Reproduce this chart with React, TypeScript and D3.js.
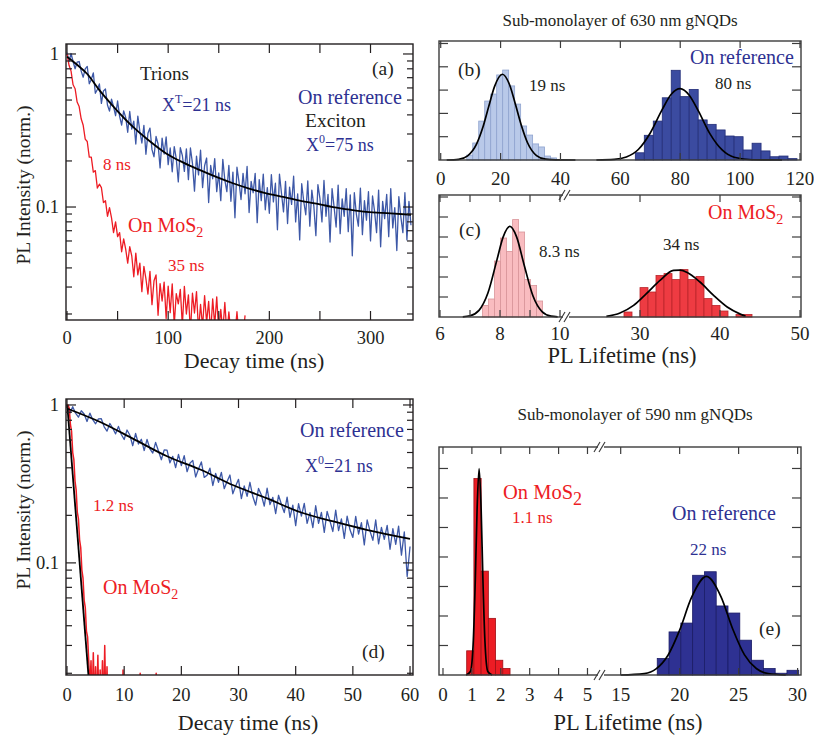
import React from 'react';
import * as d3 from 'd3';

// ---------- data ----------

// (a) 630 nm gNQDs – PL decay traces (uniform time channels)
const decayARefStep = 2; // ns
const decayARef = [
  1.02, 0.893, 1.007, 0.893, 0.801, 0.884, 0.893, 0.773, 0.705, 0.799,
  0.829, 0.639, 0.682, 0.753, 0.554, 0.586, 0.638, 0.476, 0.573, 0.59,
  0.464, 0.423, 0.507, 0.453, 0.395, 0.493, 0.391, 0.343, 0.425, 0.385,
  0.308, 0.421, 0.323, 0.364, 0.258, 0.393, 0.312, 0.262, 0.342, 0.221,
  0.303, 0.328, 0.237, 0.213, 0.289, 0.258, 0.18, 0.282, 0.222, 0.287,
  0.189, 0.243, 0.17, 0.248, 0.207, 0.146, 0.244, 0.217, 0.171, 0.24,
  0.151, 0.243, 0.193, 0.127, 0.215, 0.162, 0.235, 0.134, 0.186, 0.209,
  0.107, 0.187, 0.153, 0.207, 0.126, 0.167, 0.11, 0.205, 0.15, 0.126,
  0.187, 0.109, 0.169, 0.085, 0.182, 0.146, 0.112, 0.166, 0.122, 0.184,
  0.092, 0.147, 0.124, 0.166, 0.079, 0.151, 0.11, 0.164, 0.096, 0.134,
  0.091, 0.163, 0.108, 0.143, 0.071, 0.164, 0.123, 0.093, 0.147, 0.078,
  0.135, 0.104, 0.159, 0.08, 0.122, 0.061, 0.142, 0.109, 0.089, 0.148,
  0.075, 0.129, 0.101, 0.065, 0.14, 0.114, 0.08, 0.149, 0.087, 0.121,
  0.059, 0.132, 0.1, 0.074, 0.139, 0.067, 0.113, 0.087, 0.132, 0.069,
  0.12, 0.048, 0.124, 0.09, 0.075, 0.133, 0.066, 0.11, 0.082, 0.126,
  0.06, 0.118, 0.094, 0.068, 0.129, 0.055, 0.109, 0.084, 0.121, 0.064,
  0.132, 0.073, 0.099, 0.052, 0.117, 0.086, 0.068, 0.124, 0.061, 0.109,
  0.076,
];
const decayAMoS2Step = 2; // ns
const decayAMoS2 = [
  1.0, 0.843, 0.773, 0.629, 0.593, 0.485, 0.453, 0.377, 0.342, 0.278,
  0.268, 0.212, 0.212, 0.169, 0.173, 0.133, 0.141, 0.134, 0.107, 0.11,
  0.087, 0.099, 0.085, 0.068, 0.08, 0.064, 0.068, 0.051, 0.062, 0.053,
  0.043, 0.055, 0.048, 0.035, 0.05, 0.036, 0.043, 0.028, 0.041, 0.034,
  0.027, 0.038, 0.023, 0.033, 0.036, 0.0196, 0.0316, 0.0243, 0.0323, 0.0187,
  0.0304, 0.0204, 0.0315, 0.017, 0.0272, 0.0233, 0.029, 0.0168, 0.0303, 0.02,
  0.0267, 0.0152, 0.0274, 0.0203, 0.028, 0.0155, 0.0231, 0.0165, 0.0264, 0.0176,
  0.0242, 0.0149, 0.0251, 0.0169, 0.0259, 0.0151, 0.0214, 0.0154, 0.0238, 0.0148,
  0.0206, 0.0147, 0.0157, 0.0146, 0.0207, 0.0141, 0.0149, 0.0144, 0.0196,
];
const fitARefT = [0, 10, 20, 32, 45, 65, 80, 98, 115, 131, 150, 164, 180, 197, 215, 230, 250, 263, 280, 296, 320, 340];
const fitARefI = [0.96, 0.85, 0.74, 0.58, 0.46, 0.335, 0.275, 0.224, 0.195, 0.175, 0.155, 0.143, 0.132, 0.123, 0.116, 0.11, 0.104, 0.1, 0.096, 0.093, 0.091, 0.089];
const aXTicks = [0, 50, 100, 150, 200, 250, 300];
const aXLabels = [0, 100, 200, 300];

// (d) 590 nm gNQDs – PL decay traces
const decayDRefStep = 0.5; // ns
const decayDRef = [
  0.979, 0.888, 0.975, 0.887, 0.837, 0.919, 0.877, 0.786, 0.888, 0.807,
  0.76, 0.817, 0.819, 0.727, 0.683, 0.763, 0.712, 0.656, 0.732, 0.65,
  0.604, 0.694, 0.643, 0.552, 0.66, 0.566, 0.607, 0.515, 0.605, 0.528,
  0.496, 0.579, 0.511, 0.45, 0.519, 0.518, 0.43, 0.473, 0.401, 0.487,
  0.413, 0.478, 0.378, 0.428, 0.446, 0.35, 0.393, 0.436, 0.348, 0.359,
  0.398, 0.309, 0.369, 0.324, 0.374, 0.295, 0.328, 0.36, 0.274, 0.307,
  0.338, 0.255, 0.307, 0.264, 0.324, 0.263, 0.232, 0.296, 0.269, 0.229,
  0.297, 0.234, 0.26, 0.205, 0.268, 0.235, 0.208, 0.261, 0.194, 0.232,
  0.172, 0.237, 0.198, 0.238, 0.178, 0.208, 0.167, 0.23, 0.178, 0.209,
  0.156, 0.212, 0.184, 0.158, 0.216, 0.16, 0.19, 0.143, 0.198, 0.162,
  0.145, 0.197, 0.152, 0.18, 0.13, 0.187, 0.159, 0.139, 0.187, 0.132,
  0.168, 0.141, 0.173, 0.122, 0.165, 0.131, 0.171, 0.112, 0.157, 0.082,
  0.127,
];
const decayDMoS2Step = 0.2; // ns
const decayDMoS2 = [
  1.0, 1.0, 0.95, 0.75, 0.68, 0.5, 0.45, 0.33, 0.29, 0.21,
  0.19, 0.14, 0.125, 0.09, 0.08, 0.058, 0.052, 0.037, 0.034, 0.024,
  0.016, 0.024, 0.012, 0.027, 0.013, 0.022, 0.012, 0.026, 0.011, 0.021,
  0.012, 0.024, 0.011, 0.03, 0.012, 0.022, 0.01, 0.01, 0.01, 0.01,
  0.01, 0.01, 0.01, 0.01, 0.01, 0.01, 0.01, 0.01, 0.01, 0.021,
  0.01, 0.01, 0.01, 0.01, 0.01, 0.01, 0.01, 0.01, 0.01, 0.01,
  0.01, 0.01, 0.01, 0.01, 0.02, 0.01, 0.01, 0.01, 0.01, 0.01,
  0.01, 0.01, 0.01, 0.01, 0.01, 0.01, 0.01, 0.01, 0.02, 0.01,
  0.01,
];
const fitDRefT = [0, 5.8, 11.6, 17.4, 23.3, 29.1, 34.9, 40.7, 46.6, 52.4, 60];
const fitDRefI = [0.95, 0.78, 0.61, 0.475, 0.39, 0.31, 0.257, 0.21, 0.183, 0.162, 0.142];
const fitDMoS2T = [0.05, 4.2];
const fitDMoS2I = [1.0, 0.012];
const dXTicks = [0, 10, 20, 30, 40, 50, 60];

// (b) 630 nm, on reference – lifetime histograms
const bTrionStart = 8.7;
const bTrionWidth = 2;
const bTrionCounts = [2.1, 7.3, 16.7, 25.3, 28.3, 36.5, 38.6, 31.8, 24, 14.6, 10.7, 6.9, 5.6, 1.7, 0.9];
const bExcStart = 65;
const bExcWidth = 3;
const bExcCounts = [3.1, 10.6, 16.7, 26.7, 38.5, 27.2, 30.3, 17.2, 15.3, 12.9, 10.3, 10, 4.3, 7.2, 3.9, 1.4, 1.7, 0.6];
const bTrionFitX = [2, 6, 9, 12, 14, 16, 18, 20.6, 23, 25, 27, 29, 32, 35, 38.5, 45];
const bTrionFitY = [0, 0.3, 1.8, 6.9, 13.7, 22.8, 31.6, 36.8, 32.3, 23.7, 14.6, 7.4, 1.9, 0.34, 0.02, 0];
const bExcFitX = [52, 58, 62, 66, 70, 74, 77, 80, 83, 86, 90, 94, 98, 104, 114];
const bExcFitY = [0, 0.26, 1.3, 4.5, 11.6, 21.7, 28.2, 30.6, 27.8, 21.2, 11.1, 4.3, 1.2, 0.1, 0];
const bXTicks = [0, 20, 40, 60, 80, 100, 120];

// (c) 630 nm, on MoS2
const cTrionStart = 7.42;
const cTrionWidth = 0.2;
const cTrionCounts = [5.8, 9, 28, 39.5, 32.8, 48.7, 42.5, 18.7, 15.8, 8];
const cExcStart = 28;
const cExcWidth = 1;
const cExcCounts = [2.5, 0, 14.7, 12.5, 20.8, 21.7, 18.7, 23.7, 18.7, 20.3, 9.2, 5.8, 3, 0, 1.3, 1.3];
const cTrionFitX = [6.76, 7.0, 7.3, 7.6, 7.9, 8.1, 8.33, 8.55, 8.8, 9.1, 9.4, 9.7, 9.92];
const cTrionFitY = [0.1, 0.6, 3.3, 12.1, 28.7, 39.8, 45.3, 40.2, 26.3, 10.5, 2.7, 0.4, 0.1];
const cExcFitX = [25.8, 27.5, 29.2, 30.8, 32.5, 34.2, 35, 35.9, 37.5, 39.2, 40.9, 42.6, 43.2];
const cExcFitY = [0.3, 2, 5.8, 11.7, 18.3, 23.3, 23.4, 22.3, 17.5, 10.8, 5, 1.3, 0.3];
const cXTicksLeft = [6, 7, 8, 9, 10];
const cXLabelsLeft = [6, 8, 10];
const cXTicksRight = [30, 40, 50];

// (e) 590 nm
const eMoS2Start = 0.82;
const eMoS2Width = 0.25;
const eMoS2Counts = [4.1, 33.3, 17.6, 9.6, 2.5, 1.1];
const eRefStart = 18.1;
const eRefWidth = 1;
const eRefCounts = [2.8, 7.3, 8.8, 16.9, 17.5, 11.7, 10.5, 5.9, 2.5, 1.1, 0.3, 0.8];
const eMoS2FitX = [0.8, 0.95, 1.05, 1.12, 1.18, 1.25, 1.32, 1.38, 1.45, 1.55, 1.7];
const eMoS2FitY = [0, 0.6, 5.9, 16.5, 28.1, 35, 28.1, 16.5, 5.9, 0.6, 0];
const eRefFitX = [15, 17, 18, 19, 20, 21, 22.27, 23.5, 24.5, 25.5, 26.5, 27.5, 29];
const eRefFitY = [0, 0.24, 1.03, 3.3, 7.6, 13.1, 16.7, 13.3, 7.8, 3.4, 1.1, 0.25, 0];
const eXTicksLeft = [0, 1, 2, 3, 4, 5];
const eXTicksRight = [15, 20, 25, 30];

// ---------- styling ----------
const FONT = '"Liberation Serif", "Times New Roman", Times, serif';
const INK = '#231f20';
const FRAME = '#3c3c3c';
const TXT_BLUE = '#2e3192';
const TXT_RED = '#ed1c24';
const TRACE_BLUE = '#3d58a7';
const TRACE_RED = '#ed1c24';

type Box = { left: number; right: number; top: number; bottom: number };
type Pt = [number, number];

const zip = (a: number[], b: number[]): Pt[] => a.map((v, i) => [v, b[i]]);
const channels = (step: number, vals: number[]): Pt[] => vals.map((v, i) => [i * step, v]);

function Txt({ x, y, size = 17, color = INK, anchor = 'start', children }: any) {
  return (
    <text x={x} y={y} fontFamily={FONT} fontSize={size} fill={color} textAnchor={anchor}>
      {children}
    </text>
  );
}

function MoS2({ sub = 14, dy = 5 }) {
  return (
    <>
      On MoS<tspan fontSize={sub} dy={dy}>2</tspan>
    </>
  );
}

function Sup({ base, sup, rest }: { base: string; sup: string; rest: string }) {
  return (
    <>
      {base}
      <tspan fontSize={12} dy={-8}>{sup}</tspan>
      <tspan dy={8}>{rest}</tspan>
    </>
  );
}

function DecayPanel(props: {
  id: string;
  box: Box;
  xDomain: [number, number];
  yDomain: [number, number];
  xTicks: number[];
  xLabels: number[];
  labelY: number;
  traces: { step: number; values: number[]; color: string; width?: number }[];
  fits: { t: number[]; v: number[] }[];
}) {
  const { box } = props;
  const x = d3.scaleLinear().domain(props.xDomain).range([box.left, box.right]);
  const y = d3.scaleLog().domain(props.yDomain).range([box.bottom, box.top]);
  const line = d3.line<Pt>().x(d => x(d[0])).y(d => y(d[1]));
  const fitLine = d3.line<Pt>().x(d => x(d[0])).y(d => y(d[1])).curve(d3.curveMonotoneX);
  const yTicks = y.ticks();
  const major = (v: number) => Math.abs(Math.log10(v) - Math.round(Math.log10(v))) < 1e-6;

  return (
    <g>
      <clipPath id={props.id}>
        <rect x={box.left} y={box.top} width={box.right - box.left} height={box.bottom - box.top} />
      </clipPath>
      <g clipPath={`url(#${props.id})`}>
        {props.traces.map((tr, i) => (
          <path key={i} d={line(channels(tr.step, tr.values)) || ''} fill="none" stroke={tr.color}
            strokeWidth={tr.width ?? 1.3} strokeLinejoin="round" />
        ))}
        {props.fits.map((f, i) => (
          <path key={'f' + i} d={fitLine(zip(f.t, f.v)) || ''} fill="none" stroke="#000" strokeWidth={1.8} />
        ))}
      </g>
      <rect x={box.left} y={box.top} width={box.right - box.left} height={box.bottom - box.top}
        fill="none" stroke={INK} strokeWidth={1.4} />
      {props.xTicks.map(v => (
        <g key={'xt' + v} stroke={INK} strokeWidth={1.2}>
          <line x1={x(v)} x2={x(v)} y1={box.bottom} y2={box.bottom - 9} />
          <line x1={x(v)} x2={x(v)} y1={box.top} y2={box.top + 9} />
        </g>
      ))}
      {yTicks.map(v => {
        const len = major(v) ? 10 : 6;
        return (
          <g key={'yt' + v} stroke={INK} strokeWidth={1.2}>
            <line x1={box.left} x2={box.left + len} y1={y(v)} y2={y(v)} />
            <line x1={box.right} x2={box.right - len} y1={y(v)} y2={y(v)} />
          </g>
        );
      })}
      {props.xLabels.map(v => (
        <Txt key={'xl' + v} x={x(v)} y={props.labelY} size={18.5} anchor="middle">{v}</Txt>
      ))}
      {yTicks.filter(major).map(v => (
        <text key={'yl' + v} x={box.left - 7} y={y(v)} dy="0.35em" fontFamily={FONT} fontSize={18.5}
          fill={INK} textAnchor="end">{v >= 1 ? '1' : String(v)}</text>
      ))}
    </g>
  );
}

type Seg = { domain: [number, number]; range: [number, number]; ticks: number[]; labels: number[] };

function HistPanel(props: {
  box: Box;
  segs: Seg[];
  yMax: number;
  yTickStep: number;
  labelY: number;
  bars: { seg: number; start: number; width: number; counts: number[]; fill: string; stroke: string }[];
  fits: { seg: number; x: number[]; y: number[] }[];
  breakX?: number;
}) {
  const { box } = props;
  const xs = props.segs.map(s => d3.scaleLinear().domain(s.domain).range(s.range));
  const y = d3.scaleLinear().domain([0, props.yMax]).range([box.bottom, box.top]);
  const yTicks = d3.range(props.yTickStep, props.yMax + 1e-6, props.yTickStep);

  return (
    <g>
      {props.bars.map((b, bi) => {
        const x = xs[b.seg];
        return (
          <g key={'b' + bi}>
            {b.counts.map((c, i) =>
              c > 0 ? (
                <rect key={i} x={x(b.start + i * b.width)} y={y(c)}
                  width={x(b.start + (i + 1) * b.width) - x(b.start + i * b.width)}
                  height={box.bottom - y(c)} fill={b.fill} stroke={b.stroke} strokeWidth={0.8} />
              ) : null
            )}
          </g>
        );
      })}
      {props.fits.map((f, i) => {
        const x = xs[f.seg];
        const ln = d3.line<Pt>().x(d => x(d[0])).y(d => y(d[1])).curve(d3.curveMonotoneX);
        return <path key={'f' + i} d={ln(zip(f.x, f.y)) || ''} fill="none" stroke="#000" strokeWidth={1.7} />;
      })}
      <rect x={box.left} y={box.top} width={box.right - box.left} height={box.bottom - box.top}
        fill="none" stroke={FRAME} strokeWidth={1.4} />
      {props.segs.map((s, si) =>
        s.ticks.map(v => (
          <g key={'xt' + si + '-' + v} stroke={FRAME} strokeWidth={1.2}>
            <line x1={xs[si](v)} x2={xs[si](v)} y1={box.bottom} y2={box.bottom - 7} />
            <line x1={xs[si](v)} x2={xs[si](v)} y1={box.top} y2={box.top + 7} />
          </g>
        ))
      )}
      {props.segs.map((s, si) =>
        s.labels.map(v => (
          <Txt key={'xl' + si + '-' + v} x={xs[si](v)} y={props.labelY} size={19} anchor="middle">{v}</Txt>
        ))
      )}
      {yTicks.map(v => (
        <g key={'yt' + v} stroke={FRAME} strokeWidth={1.2}>
          <line x1={box.left} x2={box.left + 9} y1={y(v)} y2={y(v)} />
          <line x1={box.right} x2={box.right - 9} y1={y(v)} y2={y(v)} />
        </g>
      ))}
      {props.breakX !== undefined &&
        [box.top, box.bottom].map(yy => (
          <g key={'br' + yy}>
            <rect x={props.breakX! - 3} y={yy - 2} width={6} height={4} fill="#fff" />
            <line x1={props.breakX! - 7} y1={yy + 5} x2={props.breakX! - 1} y2={yy - 5} stroke={FRAME} strokeWidth={1.2} />
            <line x1={props.breakX! - 2} y1={yy + 5} x2={props.breakX! + 4} y2={yy - 5} stroke={FRAME} strokeWidth={1.2} />
          </g>
        ))}
    </g>
  );
}

export default function App() {
  const boxA = { left: 66, right: 413, top: 44, bottom: 320 };
  const boxD = { left: 66, right: 413, top: 399, bottom: 675 };
  const boxB = { left: 439, right: 801, top: 41, bottom: 160 };
  const boxC = { left: 439, right: 801, top: 195, bottom: 317 };
  const boxE = { left: 439, right: 801, top: 447, bottom: 675 };

  return (
    <svg width={814} height={737} viewBox="0 0 814 737"
      style={{ position: 'absolute', left: 0, top: 0, background: '#fff' }}>
      {/* ---- (a) ---- */}
      <DecayPanel id="clipA" box={boxA} xDomain={[-1, 342]} yDomain={[0.01827, 1.162]}
        xTicks={aXTicks} xLabels={aXLabels} labelY={344}
        traces={[
          { step: decayARefStep, values: decayARef, color: TRACE_BLUE },
          { step: decayAMoS2Step, values: decayAMoS2, color: TRACE_RED },
        ]}
        fits={[{ t: fitARefT, v: fitARefI }]} />
      <Txt x={140} y={80} size={19}>Trions</Txt>
      <Txt x={162} y={111} size={18} color={TXT_BLUE}><Sup base="X" sup="T" rest="=21 ns" /></Txt>
      <Txt x={298} y={104} size={20} color={TXT_BLUE}>On reference</Txt>
      <Txt x={305} y={127} size={19.5}>Exciton</Txt>
      <Txt x={306} y={151} size={18} color={TXT_BLUE}><Sup base="X" sup="0" rest="=75 ns" /></Txt>
      <Txt x={372} y={75} size={19.5}>(a)</Txt>
      <Txt x={103} y={170} size={17} color={TXT_RED}>8 ns</Txt>
      <Txt x={128} y={232} size={20} color={TXT_RED}><MoS2 /></Txt>
      <Txt x={168} y={271} size={17} color={TXT_RED}>35 ns</Txt>
      <text transform="translate(30,185) rotate(-90)" fontFamily={FONT} fontSize={19.5} fill={INK}
        textAnchor="middle">PL Intensity (norm.)</text>
      <Txt x={254} y={368} size={22} anchor="middle">Decay time (ns)</Txt>

      {/* ---- (d) ---- */}
      <DecayPanel id="clipD" box={boxD} xDomain={[-0.175, 60.52]} yDomain={[0.0195, 1.091]}
        xTicks={dXTicks} xLabels={dXTicks} labelY={701}
        traces={[
          { step: decayDRefStep, values: decayDRef, color: TRACE_BLUE },
          { step: decayDMoS2Step, values: decayDMoS2, color: TRACE_RED, width: 1.5 },
        ]}
        fits={[{ t: fitDRefT, v: fitDRefI }, { t: fitDMoS2T, v: fitDMoS2I }]} />
      <Txt x={300} y={437} size={20} color={TXT_BLUE}>On reference</Txt>
      <Txt x={305} y={472} size={18} color={TXT_BLUE}><Sup base="X" sup="0" rest="=21 ns" /></Txt>
      <Txt x={93} y={511} size={17} color={TXT_RED}>1.2 ns</Txt>
      <Txt x={103} y={594} size={20} color={TXT_RED}><MoS2 /></Txt>
      <Txt x={362} y={658} size={19.5}>(d)</Txt>
      <text transform="translate(30,510) rotate(-90)" fontFamily={FONT} fontSize={19.5} fill={INK}
        textAnchor="middle">PL Intensity (norm.)</text>
      <Txt x={248} y={730} size={22} anchor="middle">Decay time (ns)</Txt>

      {/* ---- (b) ---- */}
      <Txt x={620} y={26} size={17} anchor="middle">Sub-monolayer of 630 nm gNQDs</Txt>
      <HistPanel box={boxB} yMax={51.07} yTickStep={10} labelY={185}
        segs={[{ domain: [-0.57, 120.34], range: [439, 801], ticks: bXTicks, labels: bXTicks }]}
        bars={[
          { seg: 0, start: bTrionStart, width: bTrionWidth, counts: bTrionCounts, fill: '#b9c9e9', stroke: '#8fa3cf' },
          { seg: 0, start: bExcStart, width: bExcWidth, counts: bExcCounts, fill: '#3b4ba0', stroke: '#232e78' },
        ]}
        fits={[{ seg: 0, x: bTrionFitX, y: bTrionFitY }, { seg: 0, x: bExcFitX, y: bExcFitY }]} />
      <Txt x={458} y={76} size={19.5}>(b)</Txt>
      <Txt x={529} y={91} size={17}>19 ns</Txt>
      <Txt x={690} y={64} size={20} color={TXT_BLUE}>On reference</Txt>
      <Txt x={715} y={89} size={17}>80 ns</Txt>

      {/* ---- (c) ---- */}
      <HistPanel box={boxC} yMax={61} yTickStep={10} labelY={340} breakX={566}
        segs={[
          { domain: [5.967, 10.133], range: [439, 564], ticks: cXTicksLeft, labels: cXLabelsLeft },
          { domain: [21, 50.125], range: [568, 801], ticks: cXTicksRight, labels: cXTicksRight },
        ]}
        bars={[
          { seg: 0, start: cTrionStart, width: cTrionWidth, counts: cTrionCounts, fill: '#f9bcc0', stroke: '#d9959a' },
          { seg: 1, start: cExcStart, width: cExcWidth, counts: cExcCounts, fill: '#ee3b42', stroke: '#b9262c' },
        ]}
        fits={[{ seg: 0, x: cTrionFitX, y: cTrionFitY }, { seg: 1, x: cExcFitX, y: cExcFitY }]} />
      <Txt x={459} y={236} size={19.5}>(c)</Txt>
      <Txt x={539} y={257} size={17}>8.3 ns</Txt>
      <Txt x={708} y={219} size={20} color={TXT_RED}><MoS2 /></Txt>
      <Txt x={663} y={250} size={17}>34 ns</Txt>
      <Txt x={622} y={363} size={22.5} anchor="middle">PL Lifetime (ns)</Txt>

      {/* ---- (e) ---- */}
      <Txt x={635} y={420} size={17} anchor="middle">Sub-monolayer of 590 nm gNQDs</Txt>
      <HistPanel box={boxE} yMax={38.64} yTickStep={5} labelY={701} breakX={601}
        segs={[
          { domain: [-0.138, 5.433], range: [439, 600], ticks: eXTicksLeft, labels: eXTicksLeft },
          { domain: [13.5, 30.29], range: [603, 801], ticks: eXTicksRight, labels: eXTicksRight },
        ]}
        bars={[
          { seg: 0, start: eMoS2Start, width: eMoS2Width, counts: eMoS2Counts, fill: '#ec1c24', stroke: '#9e1016' },
          { seg: 1, start: eRefStart, width: eRefWidth, counts: eRefCounts, fill: '#2e3192', stroke: '#1b1d66' },
        ]}
        fits={[{ seg: 0, x: eMoS2FitX, y: eMoS2FitY }, { seg: 1, x: eRefFitX, y: eRefFitY }]} />
      <Txt x={503} y={499} size={20.5} color={TXT_RED}><MoS2 sub={18} dy={6} /></Txt>
      <Txt x={512} y={523} size={17} color={TXT_RED}>1.1 ns</Txt>
      <Txt x={672} y={520} size={20} color={TXT_BLUE}>On reference</Txt>
      <Txt x={690} y={555} size={17} color={TXT_BLUE}>22 ns</Txt>
      <Txt x={759} y={635} size={19.5}>(e)</Txt>
      <Txt x={628} y={730} size={22.5} anchor="middle">PL Lifetime (ns)</Txt>
    </svg>
  );
}
